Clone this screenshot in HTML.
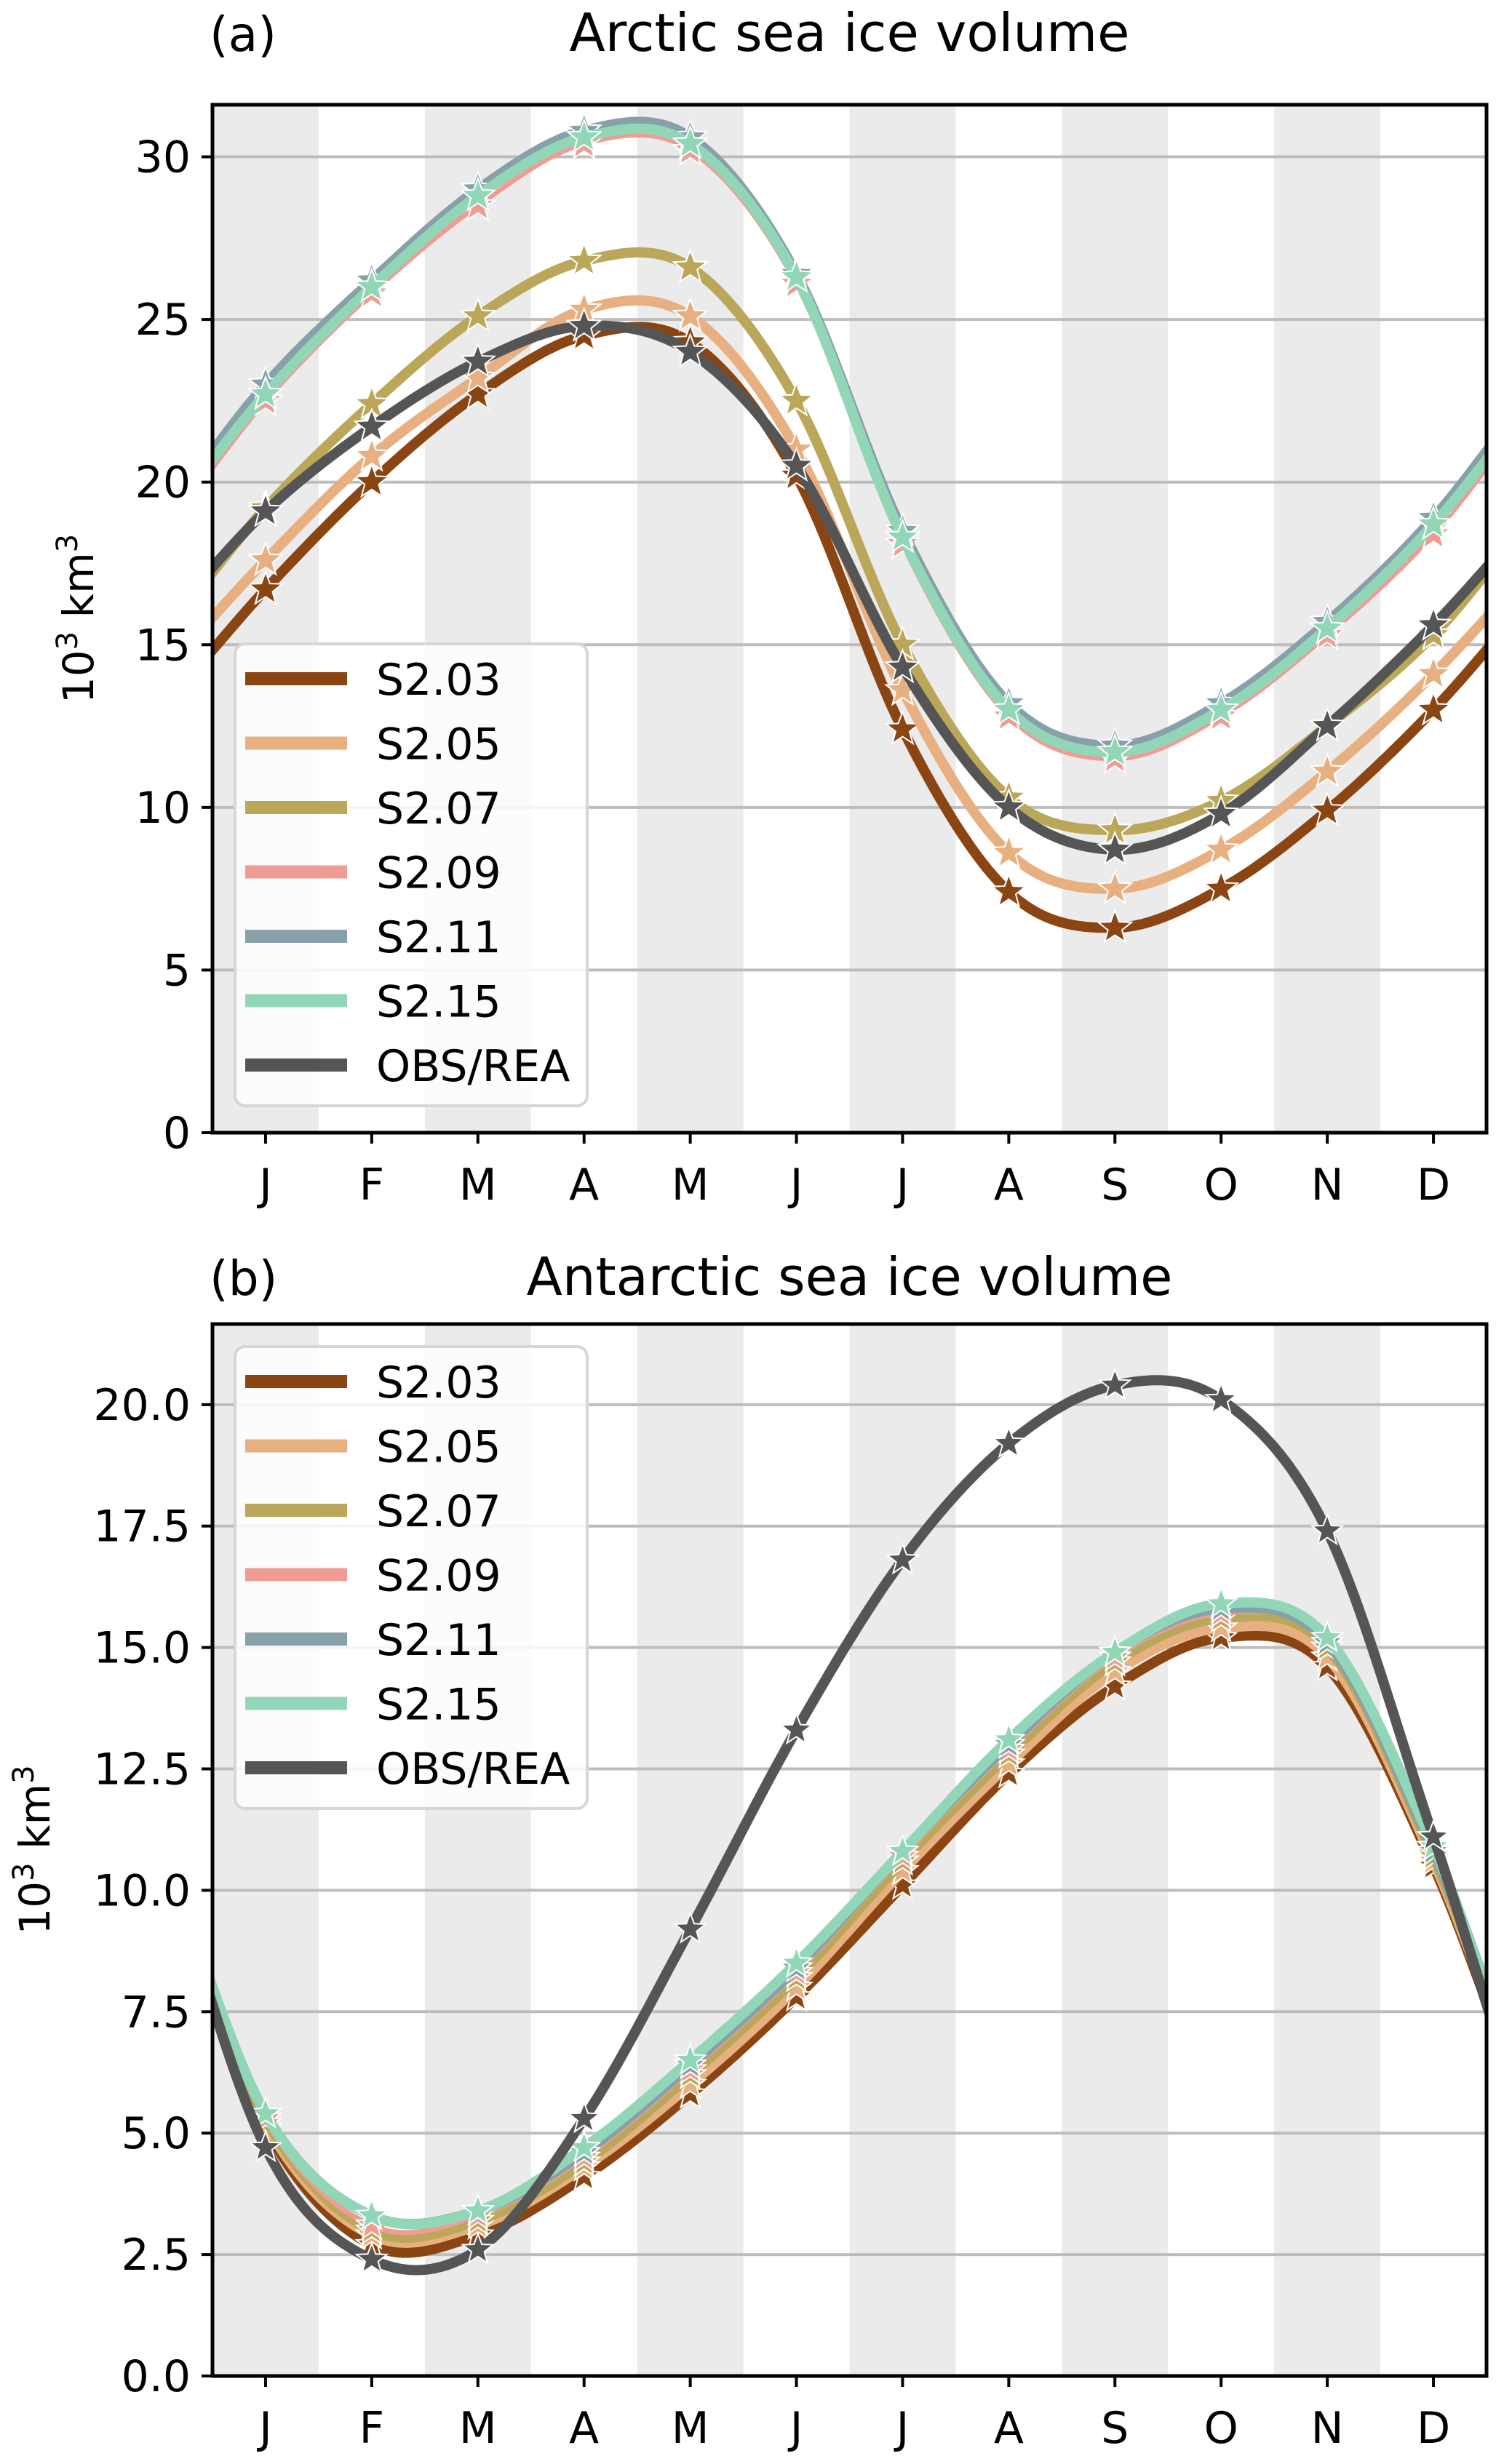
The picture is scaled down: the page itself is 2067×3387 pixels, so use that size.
<!DOCTYPE html>
<html><head><meta charset="utf-8"><style>
html,body{margin:0;padding:0;background:#fff}
svg{display:block;font-family:"DejaVu Sans","Liberation Sans",sans-serif}
</style></head><body>
<svg id="chart" width="2067" height="3387" viewBox="0 0 2067 3387" xmlns="http://www.w3.org/2000/svg"></svg>
<script>
const months = ["J","F","M","A","M","J","J","A","S","O","N","D"];
const seriesNames = ["S2.03","S2.05","S2.07","S2.09","S2.11","S2.15","OBS/REA"];
const seriesColors = ["#8b4513","#e8b080","#bba75a","#f09c94","#87a0aa","#92d6b8","#555555"];
// Panel a (Arctic)
const arcticS203 = [16.7,20.0,22.7,24.5,24.3,20.2,12.4,7.4,6.3,7.5,9.9,13.0];
const arcticS205 = [17.6,20.8,23.2,25.3,25.1,21.0,13.6,8.6,7.5,8.7,11.1,14.1];
const arcticS207 = [19.2,22.4,25.1,26.8,26.6,22.5,15.0,10.3,9.3,10.2,12.5,15.3];
const arcticS209 = [22.5,25.8,28.5,30.4,30.2,26.1,18.1,12.8,11.5,12.8,15.3,18.4];
const arcticS211 = [23.0,26.2,29.0,30.8,30.6,26.4,18.5,13.2,11.9,13.2,15.7,18.9];
const arcticS215 = [22.7,26.0,28.8,30.6,30.4,26.3,18.3,13.0,11.7,13.0,15.5,18.7];
const arcticObs  = [19.1,21.7,23.7,24.8,24.0,20.5,14.3,10.0,8.7,9.8,12.5,15.6];
const arcticTicks = [0,5,10,15,20,25,30];
// Panel b (Antarctic)
const antS203 = [5.1,2.7,2.9,4.1,5.8,7.8,10.1,12.4,14.2,15.2,14.6,10.5];
const antS205 = [5.2,2.9,3.1,4.3,6.0,8.0,10.4,12.6,14.5,15.4,14.8,10.6];
const antS207 = [5.3,3.0,3.2,4.4,6.2,8.2,10.6,12.8,14.7,15.6,15.0,10.7];
const antS209 = [5.3,3.1,3.3,4.5,6.3,8.3,10.7,12.9,14.8,15.7,15.1,10.8];
const antS211 = [5.4,3.3,3.4,4.6,6.4,8.4,10.8,13.0,14.9,15.8,15.1,10.8];
const antS215 = [5.4,3.3,3.4,4.7,6.5,8.5,10.8,13.1,14.9,15.9,15.2,10.9];
const antObs  = [4.7,2.4,2.6,5.3,9.2,13.3,16.8,19.2,20.4,20.1,17.4,11.1];
const antTicks = [0,2.5,5,7.5,10,12.5,15,17.5,20];

const NS="http://www.w3.org/2000/svg";
const svg=document.getElementById('chart');
function el(tag,attrs,parent){const e=document.createElementNS(NS,tag);for(const k in attrs)e.setAttribute(k,attrs[k]);(parent||svg).appendChild(e);return e;}

function star(cx,cy,r){let p=[];for(let i=0;i<10;i++){const a=-Math.PI/2+i*Math.PI/5;const rr=i%2?r*0.42:r;p.push((cx+rr*Math.cos(a)).toFixed(1)+","+(cy+rr*Math.sin(a)).toFixed(1));}return p.join(" ");}

function panel(cfg){
  const L=292,R=2043,T=cfg.top,B=cfg.bottom;
  const mw=(R-L)/12;
  const xS=m=>L+(m+0.5)*mw;
  const yS=v=>B-(v/cfg.ymax)*(B-T);
  const g=el('g',{});
  
  
  const cid='clip'+cfg.id;
  const cp=el('clipPath',{id:cid},g);el('rect',{x:L,y:T,width:R-L,height:B-T},cp);
  for(let m=0;m<12;m+=2){
    const b=el('rect',{x:L+m*mw,y:T,width:mw,height:B-T,fill:'#ebebeb'},g);
    
    
  }
  cfg.ticks.forEach(t=>{
    const y=yS(t);
    if(t>0){const gl=el('line',{x1:L,x2:R,y1:y,y2:y,stroke:'#bdbdbd','stroke-width':4},g);
      
      }
    el('line',{x1:L-15,x2:L,y1:y,y2:y,stroke:'#000','stroke-width':4},g);
    const tx=el('text',{x:L-30,y:y+21,'font-size':60,'text-anchor':'end'},g);
    tx.textContent=cfg.fmt(t);
    
    
  });
  const lg=el('g',{'clip-path':'url(#'+cid+')'},g);
  cfg.data.forEach((vals,si)=>{
    let pts=[];
    const get=i=>vals[((i%12)+12)%12];
    for(let i=-1;i<12;i++){
      const p0=get(i-1),p1=get(i),p2=get(i+1),p3=get(i+2);
      for(let k=0;k<20;k++){const t=k/20;
        const v=0.5*((2*p1)+(-p0+p2)*t+(2*p0-5*p1+4*p2-p3)*t*t+(-p0+3*p1-3*p2+p3)*t*t*t);
        pts.push(xS(i+t).toFixed(1)+","+yS(v).toFixed(1));}
    }
    const w=(si===3)?7:14;
    const ln=el('polyline',{points:pts.join(" "),fill:'none',stroke:seriesColors[si],'stroke-width':w,'stroke-linejoin':'round'},lg);
    
    
    vals.forEach((v,m)=>{
      const s=el('polygon',{points:star(xS(m),yS(v),cfg.starR),fill:seriesColors[si],stroke:'#fff','stroke-width':2},lg);
      
      
    });
  });
  months.forEach((mn,m)=>{
    el('line',{x1:xS(m),x2:xS(m),y1:B,y2:B+15,stroke:'#000','stroke-width':4},g);
    const tx=el('text',{x:xS(m),y:B+92,'font-size':60,'text-anchor':'middle'},g);
    tx.textContent=mn;
    
    
  });
  const lgd=el('g',{},g);
  
  
  el('rect',{x:323,y:cfg.legTop,width:484,height:635,rx:14,fill:'#fff','fill-opacity':0.85,stroke:'#d6d6d6','stroke-width':4},lgd);
  seriesNames.forEach((n,i)=>{
    const cy=cfg.legTop+48+i*88.5;
    el('line',{x1:337,x2:477,y1:cy,y2:cy,stroke:seriesColors[i],'stroke-width':18},lgd);
    const tx=el('text',{x:517,y:cy+22,'font-size':60},lgd);
    tx.textContent=n;
    
    
  });
  el('rect',{x:L,y:T,width:R-L,height:B-T,fill:'none',stroke:'#000','stroke-width':5},g);
  const t1=el('text',{x:L-4,y:cfg.titleY,'font-size':66},g);t1.textContent=cfg.label;
  
  
  const t2=el('text',{x:(L+R)/2,y:cfg.titleY,'font-size':72,'text-anchor':'middle'},g);t2.textContent=cfg.title;
  
  
  const yl=el('text',{x:0,y:0,'font-size':58,'text-anchor':'middle',transform:'translate('+cfg.ylx+','+(T+B)/2+') rotate(-90)'},g);
  yl.innerHTML='10<tspan dy="-22" font-size="40">3</tspan><tspan dy="22"> km</tspan><tspan dy="-22" font-size="40">3</tspan>';
  
  
}

panel({id:'a',name:'arctic-panel',top:144,bottom:1557,ymax:31.6,ticks:arcticTicks,fmt:t=>String(t),
  data:[arcticS203,arcticS205,arcticS207,arcticS209,arcticS211,arcticS215,arcticObs],
  starR:24,legTop:885,titleY:70,label:'(a)',title:'Arctic sea ice volume',ylx:128});
panel({id:'b',name:'antarctic-panel',top:1820,bottom:3266,ymax:21.66,ticks:antTicks,fmt:t=>t.toFixed(1),
  data:[antS203,antS205,antS207,antS209,antS211,antS215,antObs],
  starR:22,legTop:1851,titleY:1780,label:'(b)',title:'Antarctic sea ice volume',ylx:68});
</script>
</body></html>
